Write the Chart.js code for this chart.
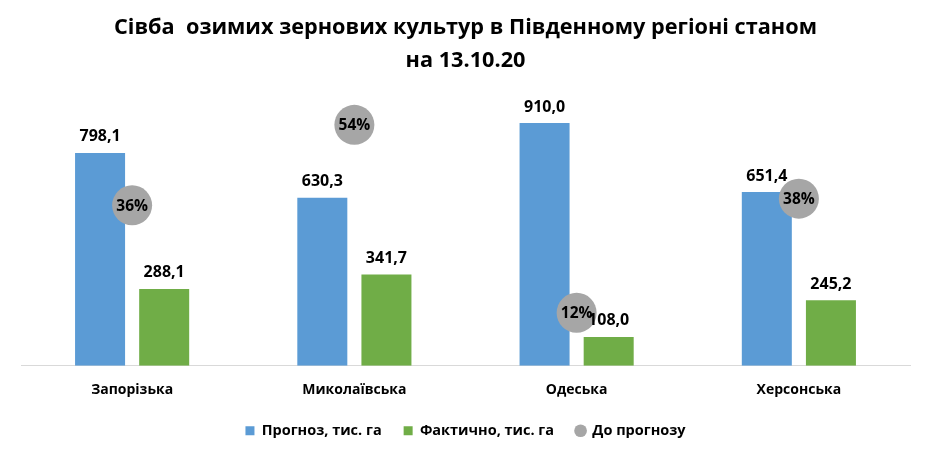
<!DOCTYPE html>
<html>
<head>
<meta charset="utf-8">
<script src="https://cdn.jsdelivr.net/npm/chart.js@4"></script>
<style>
html,body{margin:0;padding:0;background:#fff;}
#wrap{width:930px;height:463px;position:relative;}
</style>
</head>
<body>
<div id="wrap"><canvas id="c"></canvas></div>
<script>
const categories = ['Запорізька', 'Миколаївська', 'Одеська', 'Херсонська'];
const forecast = [798.1, 630.3, 910.0, 651.4];
const actual = [288.1, 341.7, 108.0, 245.2];
const percentOfForecast = [36.1, 54.2, 11.9, 37.6];
const seriesNames = ['Прогноз, тис. га', 'Фактично, тис. га', 'До прогнозу'];
const titleLines = ['Сівба  озимих зернових культур в Південному регіоні станом', 'на 13.10.20'];

const FONT = '"Open Sans", "DejaVu Sans", sans-serif';
const fmt = v => v.toFixed(1).replace('.', ',');

const labelPlugin = {
  id: 'valueLabels',
  afterDatasetsDraw(chart) {
    const ctx = chart.ctx;
    ctx.save();
    ctx.fillStyle = '#000';
    ctx.textAlign = 'center';
    chart.data.datasets.forEach((ds, di) => {
      const meta = chart.getDatasetMeta(di);
      meta.data.forEach((el, i) => {
        if (ds.type === 'line') {
          ctx.font = 'bold 15.5px ' + FONT;
          ctx.textBaseline = 'middle';
          ctx.fillText(Math.round(ds.data[i]) + '%', el.x, el.y + 1);
        } else {
          ctx.font = 'bold 16px ' + FONT;
          ctx.textBaseline = 'bottom';
          ctx.fillText(fmt(ds.data[i]), el.x, el.y - 8);
        }
      });
    });
    ctx.restore();
  }
};

const legendShift = {
  id: 'legendShift',
  afterLayout(chart) {
    const lg = chart.legend;
    if (lg) { lg.top -= 13; lg.bottom -= 13; }
  }
};

new Chart(document.getElementById('c'), {
  data: {
    labels: categories,
    datasets: [
      {
        type: 'line',
        label: seriesNames[2],
        data: percentOfForecast,
        yAxisID: 'y1',
        showLine: false,
        pointRadius: 20,
        pointHoverRadius: 20,
        pointBackgroundColor: '#a6a6a6',
        pointBorderWidth: 0,
        backgroundColor: '#a6a6a6',
        borderColor: '#a6a6a6',
        pointStyle: 'circle',
        order: 0,
        clip: false
      },
      {
        type: 'bar',
        label: seriesNames[0],
        data: forecast,
        yAxisID: 'y',
        backgroundColor: '#5b9bd5',
        categoryPercentage: 0.577,
        barPercentage: 0.78,
        pointStyle: 'rect',
        order: 1
      },
      {
        type: 'bar',
        label: seriesNames[1],
        data: actual,
        yAxisID: 'y',
        backgroundColor: '#70ad47',
        categoryPercentage: 0.577,
        barPercentage: 0.78,
        pointStyle: 'rect',
        order: 1
      }
    ]
  },
  options: {
    responsive: true,
    maintainAspectRatio: false,
    animation: false,
    layout: { padding: { left: 21, right: 20, top: 0, bottom: 2 } },
    scales: {
      x: {
        grid: { display: false, drawTicks: false },
        border: { display: true, color: '#d9d9d9', width: 1 },
        ticks: { color: '#000', font: { family: FONT, size: 14, weight: 'bold' }, padding: 16 }
      },
      y: { display: false, min: 0, max: 1000 },
      y1: { display: false, min: 0, max: 60, position: 'right' }
    },
    plugins: {
      title: {
        display: true,
        text: titleLines,
        color: '#000',
        font: { family: FONT, size: 21.7, weight: 'bold', lineHeight: 1.5 },
        padding: { top: 12, bottom: 22 }
      },
      legend: {
        position: 'bottom',
        labels: {
          color: '#000',
          font: { family: FONT, size: 14.5, weight: 'bold' },
          usePointStyle: true,
          boxWidth: 9,
          boxHeight: 9,
          padding: 22,
          sort: (a, b) => {
            const order = [1, 2, 0];
            return order.indexOf(a.datasetIndex) - order.indexOf(b.datasetIndex);
          },
          generateLabels(chart) {
            return chart.data.datasets.map((ds, i) => ({
              text: ds.label,
              fillStyle: ds.backgroundColor,
              strokeStyle: ds.backgroundColor,
              lineWidth: 0,
              pointStyle: ds.pointStyle,
              datasetIndex: i,
              hidden: false,
              fontColor: '#000'
            }));
          }
        }
      },
      tooltip: { enabled: false }
    }
  },
  plugins: [labelPlugin, legendShift]
});
</script>
</body>
</html>
